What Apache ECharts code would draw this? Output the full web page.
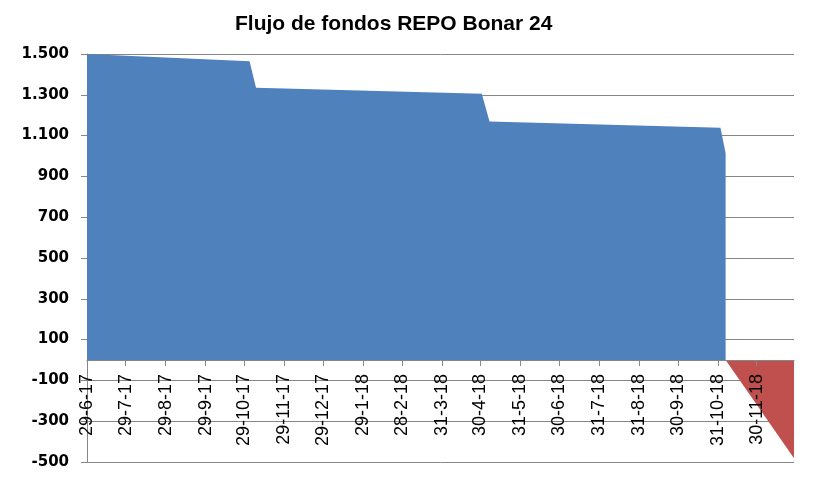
<!DOCTYPE html>
<html>
<head>
<meta charset="utf-8">
<script src="https://cdn.jsdelivr.net/npm/echarts@6/dist/echarts.min.js"></script>
<style>html,body{margin:0;padding:0;background:#fff}#c{width:819px;height:482px}</style>
</head>
<body>
<div id="c"></div>
<script>
// Data (dates as YYYY-MM-DD)
const titleText = 'Flujo de fondos REPO Bonar 24';
const flowDates  = ['2017-06-29','2017-11-02','2017-11-07','2018-05-01','2018-05-07','2018-11-02','2018-11-06'];
const flowValues = [1500, 1465, 1335, 1305, 1169, 1138, 1014];
const repoDates  = ['2018-11-06','2018-12-29'];
const repoValues = [0, -482];
const tickDates  = ['2017-06-29','2017-07-29','2017-08-29','2017-09-29','2017-10-29','2017-11-29','2017-12-29',
                    '2018-01-29','2018-02-28','2018-03-31','2018-04-30','2018-05-31','2018-06-30','2018-07-31',
                    '2018-08-31','2018-09-30','2018-10-31','2018-11-30'];
const tickLabels = ['29-6-17','29-7-17','29-8-17','29-9-17','29-10-17','29-11-17','29-12-17',
                    '29-1-18','28-2-18','31-3-18','30-4-18','31-5-18','30-6-18','31-7-18',
                    '31-8-18','30-9-18','31-10-18','30-11-18'];
const yTicks = [-500,-300,-100,100,300,500,700,900,1100,1300,1500];
const yMin = -500, yMax = 1500;
const xStart = '2017-06-29';
const xEnd   = '2018-12-29';

const ts = s => { const p = s.split('-').map(Number); return Date.UTC(p[0], p[1]-1, p[2]); };
const tickTs = tickDates.map(ts);
const fmtY = v => {
  const a = Math.abs(v); let s = String(a);
  if (a >= 1000) s = s.slice(0, s.length-3) + '.' + s.slice(-3);
  return (v < 0 ? '-' : '') + s;
};
const gridColor = '#868686';
const W = 819, H = 482;
const G = {left: 87, right: 25, top: 54, bottom: 20};
const plotH = H - G.top - G.bottom;
// shift the category axis from the bottom of the grid up to the zero line
const zeroOffset = -plotH * (0 - yMin) / (yMax - yMin);

const chart = echarts.init(document.getElementById('c'), null, {renderer: 'canvas'});
chart.setOption({
  animation: false,
  backgroundColor: '#ffffff',
  title: {
    text: titleText, left: 230, top: 9,
    textStyle: {fontFamily: 'Liberation Sans', fontWeight: 'bold', fontSize: 21, color: '#000'}
  },
  grid: Object.assign({containLabel: false, outerBoundsMode: 'none'}, G),
  xAxis: {
    type: 'value', min: ts(xStart), max: ts(xEnd), z: 10,
    position: 'bottom', offset: zeroOffset,
    axisLine: {onZero: false, lineStyle: {color: gridColor, width: 1}},
    axisTick: {show: true, length: 6, inside: false, customValues: tickTs, lineStyle: {color: gridColor}},
    axisLabel: {
      customValues: tickTs, rotate: 90, margin: 14, hideOverlap: false,
      fontFamily: 'Liberation Sans', fontSize: 18, color: '#000',
      formatter: v => { const i = tickTs.indexOf(v); return i >= 0 ? tickLabels[i] : ''; }
    },
    splitLine: {show: false}
  },
  yAxis: [{
    type: 'value', min: yMin, max: yMax,
    axisLine: {show: true, lineStyle: {color: gridColor}},
    axisTick: {show: true, length: 6, customValues: yTicks, lineStyle: {color: gridColor}},
    axisLabel: {customValues: yTicks, formatter: fmtY, margin: 18,
      fontFamily: 'DejaVu Sans', fontWeight: 'bold', fontSize: 15, color: '#000'},
    splitLine: {show: false}
  }, {
    // helper axis only for horizontal gridlines at the same tick positions
    type: 'value', min: 0, max: yMax - yMin, interval: 200, position: 'left',
    axisLine: {show: false}, axisTick: {show: false}, axisLabel: {show: false},
    splitLine: {show: true, lineStyle: {color: gridColor, width: 1}}
  }],
  series: [{
    name: 'Flujo', type: 'line', yAxisIndex: 0,
    data: flowDates.map((d, i) => [ts(d), flowValues[i]]),
    showSymbol: false, symbol: 'none',
    lineStyle: {width: 0}, itemStyle: {color: '#4F81BD'},
    areaStyle: {color: '#4F81BD', opacity: 1}
  }, {
    name: 'Repo', type: 'line', yAxisIndex: 0,
    data: repoDates.map((d, i) => [ts(d), repoValues[i]]),
    showSymbol: false, symbol: 'none',
    lineStyle: {width: 0}, itemStyle: {color: '#C0504D'},
    areaStyle: {color: '#C0504D', opacity: 1}
  }]
});
</script>
</body>
</html>
